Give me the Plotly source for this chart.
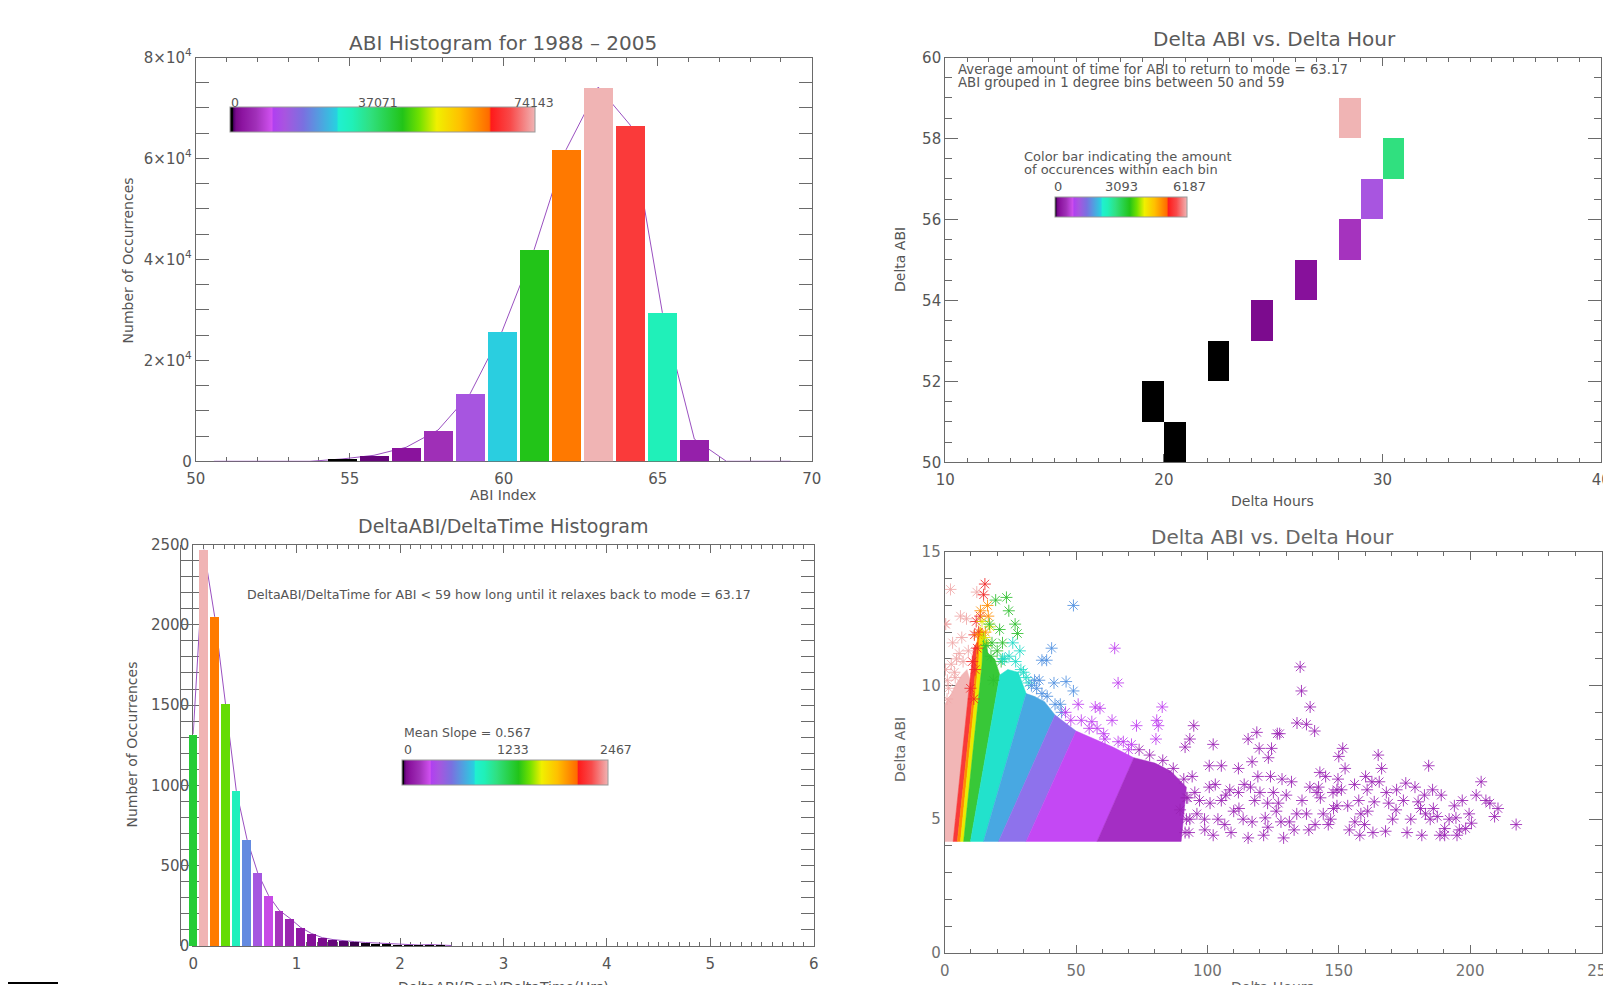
import plotly.graph_objects as go

W, H = 1611, 985
OFF = 8  # page body margin of the browser
def px(x): return (x - OFF) / W
def py(y): return 1 - (y - OFF) / H

FONT = "DejaVu Sans"
TXT = "#555555"
AX = "#6a6a6a"

# ---------------- data: panel 1 (ABI histogram) ----------------
abi_centers = [50.59, 51.63, 52.67, 53.71, 54.75, 55.79, 56.83, 57.87, 58.91, 59.95,
               60.99, 62.03, 63.07, 64.11, 65.15, 66.19, 67.23, 68.27, 69.31]
abi_counts = [0, 0, 0, 0, 460, 1190, 2770, 6200, 13400, 25800,
              41980, 61800, 74143, 66600, 29500, 4400, 0, 0, 0]
abi_ticks = [0, 20000, 40000, 60000, 80000]
abi_ticktext = ["0", "2×10<sup>4</sup>", "4×10<sup>4</sup>", "6×10<sup>4</sup>", "8×10<sup>4</sup>"]
abi_cbar_labels = ["0", "37071", "74143"]

# ---------------- data: panel 2 (binned Delta ABI vs Delta Hour) ----------------
dabi_bins = [50, 51, 52, 53, 54, 55, 56, 57, 58]
dhour_start = [20, 19, 22, 24, 26, 28, 29, 30, 28]
bin_counts = [20, 25, 40, 135, 215, 560, 1110, 2850, 6187]
hour_cols = list(range(10, 40))
bin_cbar_labels = ["0", "3093", "6187"]

# ---------------- data: panel 3 (slope histogram) ----------------
slope_centers = [0.000, 0.104, 0.208, 0.312, 0.416, 0.520, 0.624, 0.728, 0.832, 0.936,
                 1.040, 1.144, 1.248, 1.352, 1.456, 1.560, 1.664, 1.768, 1.872, 1.976,
                 2.080, 2.184, 2.288, 2.392, 2.496]
slope_counts = [1320, 2467, 2050, 1510, 970, 665, 455, 315, 222, 172,
                115, 78, 52, 40, 32, 27, 22, 18, 14, 10,
                8, 6, 9, 5, 3]
slope_cbar_labels = ["0", "1233", "2467"]

# ---------------- data: panel 4 (scatter Delta ABI vs Delta Hour) ----------------
Y0 = 4.17
band_pink_x = [0, 3.2, 9.6, 8.5, 6.5, 4.0, 2.0, 0]
band_pink_y = [Y0, Y0, 10.2, 10.6, 10.4, 10.0, 9.6, 9.3]
band_red_x = [3.2, 4.8, 11.8, 12.2, 11.0, 9.6]
band_red_y = [Y0, Y0, 10.6, 11.6, 11.4, 10.2]
band_orange_x = [4.8, 6.0, 13.0, 13.5, 12.2, 11.8]
band_orange_y = [Y0, Y0, 11.0, 12.2, 11.6, 10.6]
band_yellow_x = [6.0, 7.2, 14.2, 14.8, 13.5, 13.0]
band_yellow_y = [Y0, Y0, 10.8, 12.0, 12.2, 11.0]
band_green_x = [7.2, 9.8, 21.0, 19.0, 16.5, 14.8, 14.2]
band_green_y = [Y0, Y0, 10.4, 11.0, 11.2, 12.0, 10.8]
band_teal_x = [9.8, 14.8, 31.0, 28.0, 24.0, 21.0]
band_teal_y = [Y0, Y0, 9.7, 10.5, 10.6, 10.4]
band_blue_x = [14.8, 20.5, 42.0, 38.0, 34.0, 31.0]
band_blue_y = [Y0, Y0, 8.9, 9.4, 9.6, 9.7]
band_lav_x = [20.5, 31.0, 50.0, 46.0, 42.0]
band_lav_y = [Y0, Y0, 8.3, 8.6, 8.9]
band_mag_x = [31.0, 58.0, 72.0, 64.0, 57.0, 50.0]
band_mag_y = [Y0, Y0, 7.3, 7.7, 8.0, 8.3]
band_pur_x = [58.0, 90.0, 92.0, 86.0, 80.0, 72.0]
band_pur_y = [Y0, Y0, 6.2, 6.8, 7.1, 7.3]

pink_pts_x = [2.2, 0.4, 12.2, 8.3, 9.0, 3.7, 0.9, 6.5, 4.5, 0.1,
              1.0, 2.5, 4.0, 5.5, 7.0, 1.5, 0.3, 3.0, 6.0]
pink_pts_y = [13.6, 12.3, 13.5, 12.5, 11.3, 10.5, 9.5, 11.8, 11.0, 12.3,
              10.2, 10.8, 10.3, 11.2, 10.9, 9.9, 10.6, 11.6, 12.6]
red_pts_x = [15.3, 14.8, 13.5, 12.4, 11.6, 11.1, 12.9, 10.5, 11.3, 12.0, 9.8]
red_pts_y = [13.8, 13.4, 12.6, 11.4, 10.6, 9.5, 12.0, 10.9, 11.9, 12.4, 9.9]
orange_pts_x = [16.3, 16.6, 15.5, 12.6, 13.6]
orange_pts_y = [13.0, 12.6, 12.0, 11.9, 12.8]
yellow_pts_x = [17.2, 16.0, 14.2, 15.2]
yellow_pts_y = [12.2, 11.6, 12.4, 11.8]
green_pts_x = [19.4, 23.5, 24.4, 20.9, 26.8, 27.7, 17.6, 18.5, 22.0, 16.0, 18.0, 20.0, 21.5, 17.0]
green_pts_y = [13.2, 13.3, 12.8, 12.1, 12.3, 11.95, 11.1, 10.2, 11.6, 11.5, 11.6, 11.3, 10.9, 12.3]
teal_pts_x = [25.9, 28.6, 29.0, 22.7, 31.0, 22.0, 24.5, 27.0, 30.0, 32.0]
teal_pts_y = [11.6, 11.3, 10.6, 11.0, 10.3, 11.0, 11.1, 10.9, 10.5, 10.1]
blue_pts_x = [49.0, 40.7, 37.0, 38.8, 34.2, 36.0, 41.6, 46.2, 37.0, 49.0, 44.0,
              33.0, 35.0, 39.0, 42.0, 44.5]
blue_pts_y = [13.0, 11.4, 10.95, 10.95, 10.2, 10.2, 10.1, 10.15, 9.7, 9.8, 9.3,
              10.0, 9.9, 9.6, 9.3, 9.0]
mag_pts_x = [64.7, 66.0, 50.8, 57.3, 59.1, 56.0, 63.7, 73.0, 82.8, 80.7, 81.3, 71.1, 80.4, 60.5, 68.0,
             46.0, 48.0, 52.0, 55.0, 58.0, 61.0, 66.0, 70.0]
mag_pts_y = [11.4, 10.1, 9.3, 9.2, 9.15, 8.65, 8.7, 8.5, 9.2, 8.7, 8.5, 7.8, 8.0, 8.2, 7.9,
             9.0, 8.7, 8.7, 8.4, 8.4, 8.0, 7.9, 7.6]
pur_pts_x = [94.8, 93.3, 91.5, 102.2, 100.7, 105.3, 111.8, 115.5, 118.8, 119.7, 124.4, 123.2, 117.0,
             126.6, 127.5, 134.1, 135.3, 135.8, 139.1, 137.7, 140.8, 150.0, 151.5, 152.4, 165.0,
             166.3, 184.2, 204.2, 202.3, 206.0, 207.5, 210.6, 209.3, 217.5, 194.0, 199.6, 200.5,
             195.9, 195.0, 190.3, 188.5, 181.6, 185.7, 182.6, 180.2, 181.1, 183.0, 184.8, 177.4,
             174.6, 175.5, 171.8, 170.5, 167.8, 168.1, 163.5, 160.8, 162.6, 160.2, 157.6, 158.4,
             156.1, 158.0, 153.4, 149.3, 147.8, 149.3, 149.7, 142.8, 142.3, 141.7, 144.1, 146.9,
             146.0, 138.6, 137.7, 134.0, 131.2, 129.0, 128.0, 126.2, 128.4, 125.1, 122.0, 121.4,
             115.5, 113.6, 110.0, 106.6, 105.3, 108.5, 111.8, 116.4, 119.2, 102.2, 98.9, 97.0,
             100.7, 94.2, 95.2, 93.3, 91.5, 89.6, 122.9, 159.8, 187.5, 194.6, 198.3, 190.3, 165.4,
             92.0, 96.0, 99.0, 101.0, 103.0, 104.0, 107.0, 109.0, 112.0, 114.0, 117.0, 118.0,
             120.0, 123.0, 124.0, 127.0, 130.0, 132.0, 133.0, 136.0, 139.0, 141.0, 143.0, 145.0,
             148.0, 151.0, 154.0, 156.0, 161.0, 163.0, 169.0, 172.0, 176.0, 179.0, 186.0, 189.0,
             192.0, 197.0, 74.0, 78.0, 83.0, 87.0, 91.0, 92.5, 92.0, 93.0]
pur_pts_y = [8.5, 8.0, 7.7, 7.8, 7.0, 7.0, 6.9, 8.0, 8.25, 7.65, 7.65, 7.3, 7.15,
             8.2, 8.2, 8.6, 10.7, 9.8, 9.2, 8.55, 8.3, 7.35, 7.65, 6.9, 7.4,
             6.9, 7.0, 6.4, 5.9, 5.7, 5.6, 5.4, 5.1, 4.8, 5.5, 5.2, 4.85,
             4.6, 4.4, 4.65, 4.4, 4.4, 6.1, 5.9, 5.65, 5.4, 5.2, 5.0, 5.0,
             5.7, 6.35, 5.35, 5.0, 4.55, 6.0, 5.65, 6.1, 6.4, 6.6, 5.7, 5.2,
             4.9, 4.4, 5.5, 5.5, 6.0, 6.1, 6.5, 6.75, 6.2, 6.0, 5.2, 5.0,
             4.8, 4.6, 5.2, 5.2, 4.9, 4.3, 4.9, 5.3, 6.5, 6.0, 5.05, 4.4,
             4.3, 5.0, 5.3, 4.8, 5.7, 6.1, 6.0, 6.2, 6.6, 4.4, 5.0, 5.7,
             6.2, 6.6, 6.0, 5.0, 4.5, 5.35, 5.6, 4.8, 5.1, 5.05, 4.65, 4.4, 6.4,
             5.8, 5.2, 4.6, 5.6, 6.3, 5.0, 5.9, 4.5, 5.4, 6.3, 4.9, 5.7,
             6.0, 4.7, 6.6, 5.6, 5.9, 6.4, 4.6, 5.7, 6.2, 4.8, 5.8, 6.6,
             5.4, 6.1, 4.6, 6.3, 5.3, 4.5, 5.6, 6.1, 4.5, 6.2, 5.4, 5.9,
             5.0, 5.7, 7.6, 7.4, 7.2, 6.9, 6.5, 5.8, 5.0, 4.5]

# ---------------- colour table (IDL-like rainbow + white) ----------------
CSCALE = [
    [0.0, "#000000"], [0.008, "#000000"], [0.012, "#500068"], [0.02, "#7a0a8c"],
    [0.04, "#8c14a0"], [0.085, "#a030b8"], [0.137, "#d050f0"], [0.142, "#b040f0"],
    [0.18, "#a855e0"], [0.24, "#7a70e0"], [0.35, "#28d0e0"], [0.356, "#20f0d0"],
    [0.40, "#20f0b8"], [0.46, "#30e080"], [0.566, "#22c418"], [0.62, "#70e000"],
    [0.678, "#f0f000"], [0.754, "#ffc000"], [0.85, "#ff6a00"], [0.856, "#ff1a1a"],
    [0.92, "#f84a4a"], [1.0, "#f0b4b4"],
]

def hbar(x0, x1, ytop, ybot):
    return dict(orientation="h", x=px(x0), xanchor="left", y=py(ybot), yanchor="bottom",
                len=x1 - x0, lenmode="pixels", thickness=ybot - ytop, thicknessmode="pixels",
                xpad=0, ypad=0, outlinewidth=1, outlinecolor="#999", ticks="",
                showticklabels=False, borderwidth=0)

fig = go.Figure()

# Panel 1: line (behind) then bars on overlay axis
fig.add_trace(go.Scatter(x=abi_centers, y=abi_counts, mode="lines",
                         line=dict(color="#9a50c0", width=1), xaxis="x", yaxis="y",
                         showlegend=False, hoverinfo="skip"))
fig.add_trace(go.Bar(x=abi_centers, y=abi_counts, width=0.95, xaxis="x5", yaxis="y",
                     marker=dict(color=abi_counts, colorscale=CSCALE, cmin=0, cmax=max(abi_counts),
                                 line=dict(width=0), showscale=True,
                                 colorbar=hbar(230, 535, 108.3, 133.3)),
                     showlegend=False))

# Panel 2: heatmap cells
z = []
for b, s, c in zip(dabi_bins, dhour_start, bin_counts):
    z.append([c if h == s else None for h in hour_cols])
fig.add_trace(go.Heatmap(x=[h + 0.5 for h in hour_cols], y=[b + 0.5 for b in dabi_bins], z=z,
                         colorscale=CSCALE, zmin=0, zmax=max(bin_counts), xaxis="x2", yaxis="y2",
                         showscale=True, colorbar=hbar(1055, 1187, 198.3, 218.3),
                         hoverongaps=False))

# Panel 3: line then bars on extended axis
fig.add_trace(go.Scatter(x=slope_centers, y=slope_counts, mode="lines",
                         line=dict(color="#9a50c0", width=1), xaxis="x3", yaxis="y3",
                         showlegend=False, hoverinfo="skip"))
fig.add_trace(go.Bar(x=slope_centers, y=slope_counts, width=0.086, xaxis="x6", yaxis="y3",
                     marker=dict(color=slope_counts, colorscale=CSCALE, cmin=0, cmax=max(slope_counts),
                                 line=dict(width=0), showscale=True,
                                 colorbar=hbar(401.6, 607.3, 760.8, 785.7)),
                     showlegend=False))

# Panel 4: dense bands then asterisks
bands = [
    (band_pink_x, band_pink_y, "#f2b6b6"), (band_red_x, band_red_y, "#f83a3a"),
    (band_orange_x, band_orange_y, "#ff8c00"), (band_yellow_x, band_yellow_y, "#e8ec00"),
    (band_green_x, band_green_y, "#38c838"), (band_teal_x, band_teal_y, "#22e2cc"),
    (band_blue_x, band_blue_y, "#48a8e2"), (band_lav_x, band_lav_y, "#8e72ec"),
    (band_mag_x, band_mag_y, "#c448f4"), (band_pur_x, band_pur_y, "#a42ec4"),
]
for bx, by, col in bands:
    fig.add_trace(go.Scatter(x=bx + [bx[0]], y=by + [by[0]], mode="lines", fill="toself",
                             fillcolor=col, line=dict(width=0.5, color=col), xaxis="x4", yaxis="y4",
                             showlegend=False, hoverinfo="skip"))
pts = [
    (pink_pts_x, pink_pts_y, "#f0a8a8"), (red_pts_x, red_pts_y, "#f02828"),
    (orange_pts_x, orange_pts_y, "#ff8c00"), (yellow_pts_x, yellow_pts_y, "#e0e000"),
    (green_pts_x, green_pts_y, "#30c030"), (teal_pts_x, teal_pts_y, "#20dcc8"),
    (blue_pts_x, blue_pts_y, "#5090e0"), (mag_pts_x, mag_pts_y, "#c040f0"),
    (pur_pts_x, pur_pts_y, "#9a22b4"),
]
for qx, qy, col in pts:
    fig.add_trace(go.Scatter(x=qx, y=qy, mode="markers", xaxis="x4", yaxis="y4",
                             marker=dict(symbol="asterisk-open", size=10, color=col, opacity=0.85,
                                         line=dict(width=1, color=col)),
                             showlegend=False, hoverinfo="skip"))

def xax(dom, rng, dtick, minor, anchor, **kw):
    d = dict(domain=dom, range=rng, dtick=dtick, tick0=rng[0], anchor=anchor,
             showline=True, linecolor=AX, linewidth=1, mirror="allticks",
             ticks="inside", ticklen=8, tickcolor=AX, tickwidth=1,
             minor=dict(dtick=minor, ticklen=4, tickcolor=AX, ticks="inside", showgrid=False),
             showgrid=False, zeroline=False, layer="below traces",
             tickfont=dict(family=FONT, size=15, color=TXT), ticklabelstandoff=4)
    d.update(kw)
    return d

def yax(dom, rng, dtick, minor, anchor, **kw):
    d = dict(domain=dom, range=rng, dtick=dtick, tick0=rng[0], anchor=anchor,
             showline=True, linecolor=AX, linewidth=1, mirror="allticks",
             ticks="inside", ticklen=13, tickcolor=AX, tickwidth=1,
             minor=dict(dtick=minor, ticklen=7, tickcolor=AX, ticks="inside", showgrid=False),
             showgrid=False, zeroline=False, layer="below traces",
             tickfont=dict(family=FONT, size=15, color=TXT), ticklabelstandoff=0)
    d.update(kw)
    return d

TL = dict(x=[px(195.7), px(811.7)], y=[py(461.3), py(57.5)])
TR = dict(x=[px(945.2), px(1601.3)], y=[py(462.3), py(57.5)])
BL = dict(x=[px(193.2), px(813.7)], y=[py(946.0), py(544.5)])
BR = dict(x=[px(944.7), px(1601.5)], y=[py(952.8), py(552.0)])
bl_ppu = (813.7 - 193.2) / 6.0
bl_ext = 12

fig.update_layout(
    width=W, height=H, margin=dict(l=0, r=0, t=0, b=0, pad=0, autoexpand=False),
    paper_bgcolor="white", plot_bgcolor="rgba(0,0,0,0)", bargap=0, showlegend=False,
    xaxis=xax(TL["x"], [50, 70], 5, 1, "y"),
    yaxis=yax(TL["y"], [0, 80000], None, 5000, "x", tickvals=abi_ticks, ticktext=abi_ticktext),
    xaxis5=dict(overlaying="x", range=[50, 70], visible=False, anchor="y"),
    xaxis2=xax(TR["x"], [10, 40], 10, 1, "y2"),
    yaxis2=yax(TR["y"], [50, 60], 2, 0.5, "x2"),
    xaxis3=xax(BL["x"], [0, 6], 1, 0.1, "y3"),
    yaxis3=yax(BL["y"], [0, 2500], 500, 100, "x3"),
    xaxis6=dict(domain=[px(193.2 - bl_ext), px(813.7)], range=[-bl_ext / bl_ppu, 6],
                visible=False, anchor="y3"),
    xaxis4=xax(BR["x"], [0, 250], 50, 10, "y4", tickfont=dict(family=FONT, size=15, color="#707070")),
    yaxis4=yax(BR["y"], [0, 15], 5, 1, "x4", tickfont=dict(family=FONT, size=15, color="#707070")),
)

ann = []
def note(text, x, y, size=12, xanchor="left", angle=0, color=TXT, yanchor="middle"):
    ann.append(dict(text=text, x=px(x), y=py(y), xref="paper", yref="paper", showarrow=False,
                    xanchor=xanchor, yanchor=yanchor, textangle=angle,
                    font=dict(family=FONT, size=size, color=color)))

TT = "#5a5a5a"
# panel 1 texts
note("ABI Histogram for 1988 – 2005", 503.4, 43.2, 20, "center", color=TT)
note("ABI Index", 503.4, 495.2, 14, "center")
note("Number of Occurrences", 128.4, 260, 14, "center", -90)
note(abi_cbar_labels[0], 229, 102, 12.5, "left")
note(abi_cbar_labels[1], 378.3, 102, 12.5, "center")
note(abi_cbar_labels[2], 534, 102, 12.5, "center")
# panel 2 texts
note("Delta ABI vs. Delta Hour", 1274, 39, 20, "center", color=TT)
note("Delta Hours", 1272, 501.4, 14, "center")
note("Delta ABI", 900, 260, 14, "center", -90)
note("Average amount of time for ABI to return to mode = 63.17", 956, 70, 13.3)
note("ABI grouped in 1 degree bins between 50 and 59", 956, 82.3, 13.3)
note("Color bar indicating the amount", 1021.7, 156.7, 13)
note("of occurences within each bin", 1021.7, 170, 13)
note(bin_cbar_labels[0], 1058.3, 186.7, 13, "center")
note(bin_cbar_labels[1], 1121.7, 186.7, 13, "center")
note(bin_cbar_labels[2], 1189, 186.7, 13, "center")
# panel 3 texts
note("DeltaABI/DeltaTime Histogram", 503.4, 526, 19, "center", color=TT)
note("DeltaABI(Deg)/DeltaTime(Hrs)", 503.4, 976.5, 14, "center", yanchor="top")
note("Number of Occurrences", 131.5, 745, 14, "center", -90)
note("DeltaABI/DeltaTime for ABI &lt; 59 how long until it relaxes back to mode = 63.17", 499, 594.3, 12.6, "center")
note("Mean Slope = 0.567", 401.6, 732.7, 12.5)
note(slope_cbar_labels[0], 402, 749, 12.5, "left")
note(slope_cbar_labels[1], 513, 749, 12.5, "center")
note(slope_cbar_labels[2], 615.6, 749, 12.5, "center")
# panel 4 texts
note("Delta ABI vs. Delta Hour", 1272, 537, 20, "center", color="#666666")
note("Delta Hours", 1272, 977, 14, "center", color="#666666", yanchor="top")
note("Delta ABI", 900, 750, 14, "center", -90, color="#666666")

fig.update_layout(annotations=ann)
fig.add_shape(type="line", xref="paper", yref="paper", x0=px(0), x1=px(58), y0=py(983), y1=py(983),
              line=dict(color="black", width=2))

fig.write_html("out.html")
